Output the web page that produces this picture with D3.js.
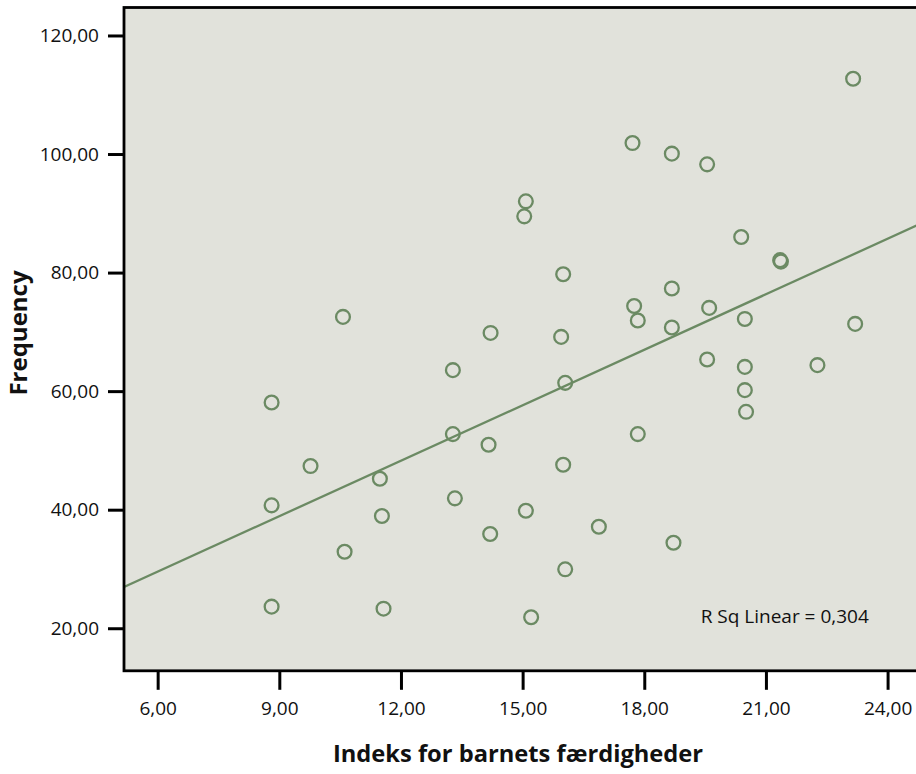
<!DOCTYPE html>
<html>
<head>
<meta charset="utf-8">
<script src="https://cdn.jsdelivr.net/npm/d3@7"></script>
<style>
  html, body { margin: 0; padding: 0; background: #ffffff; }
  svg { display: block; }
  text { font-family: "Open Sans", "Noto Sans", sans-serif; fill: #111; }
</style>
</head>
<body>
<script>
// Index scores (x) and frequency (y) for each child
const skillIndex = [
  10.57, 14.21, 13.28, 8.81, 13.28, 14.16, 9.77, 11.48, 13.33, 8.81,
  11.53, 14.20, 10.61, 8.81, 11.57, 17.71, 18.68, 15.08, 15.04, 16.00,
  18.68, 17.75, 17.84, 18.68, 15.95, 16.05, 17.84, 16.00, 15.08, 16.88,
  18.72, 16.05, 15.21, 23.15, 19.55, 20.39, 21.35, 21.37, 19.60, 20.48,
  23.20, 19.55, 20.48, 22.27, 20.48, 20.51
];
const frequency = [
  72.52, 69.82, 63.54, 58.09, 52.75, 50.95, 47.36, 45.22, 41.91, 40.73,
  38.93, 35.90, 32.91, 23.64, 23.30, 101.85, 100.06, 92.02, 89.49, 79.72,
  77.31, 74.37, 71.91, 70.73, 69.15, 61.40, 52.75, 47.58, 39.82, 37.12,
  34.43, 29.94, 21.85, 112.70, 98.26, 86.00, 82.10, 81.85, 74.04, 72.18,
  71.34, 65.34, 64.09, 64.38, 60.17, 56.51
];

const xTicks = [6, 9, 12, 15, 18, 21, 24];
const yTicks = [20, 40, 60, 80, 100, 120];
const xDomain = [5.17, 24.75];
const yDomain = [12.82, 124.72];

const xTitle = "Indeks for barnets færdigheder";
const yTitle = "Frequency";
const fitLabel = "R Sq Linear = 0,304";

const W = 916, H = 774;
const margin = { left: 124, top: 7.5, right: -2, bottom: 103.2 };
const pw = W - margin.left - margin.right;
const ph = H - margin.top - margin.bottom;

const green = "#6b8a63";
const panel = "#e1e2db";

const fmt = d3.formatLocale({ decimal: ",", thousands: ".", grouping: [3], currency: ["", ""] }).format(".2f");

const svg = d3.select("body").append("svg")
  .attr("width", W).attr("height", H);

const x = d3.scaleLinear().domain(xDomain).range([0, pw]);
const y = d3.scaleLinear().domain(yDomain).range([ph, 0]);

const g = svg.append("g").attr("transform", `translate(${margin.left},${margin.top})`);

// plot panel
g.append("rect")
  .attr("x", 0).attr("y", 0).attr("width", pw).attr("height", ph)
  .attr("fill", panel);

const clip = svg.append("defs").append("clipPath").attr("id", "plotclip");
clip.append("rect").attr("x", 0).attr("y", 0).attr("width", pw).attr("height", ph);

const inner = g.append("g").attr("clip-path", "url(#plotclip)");

// least-squares fit line
const pts = skillIndex.map((v, i) => [v, frequency[i]]);
const mx = d3.mean(skillIndex), my = d3.mean(frequency);
const sxy = d3.sum(pts, p => (p[0] - mx) * (p[1] - my));
const sxx = d3.sum(pts, p => (p[0] - mx) ** 2);
const slope = sxy / sxx;
const intercept = my - slope * mx;

inner.append("line")
  .attr("x1", x(xDomain[0])).attr("y1", y(intercept + slope * xDomain[0]))
  .attr("x2", x(xDomain[1])).attr("y2", y(intercept + slope * xDomain[1]))
  .attr("stroke", green).attr("stroke-width", 2.3);

// observations
inner.selectAll("circle.obs")
  .data(pts)
  .join("circle")
  .attr("class", "obs")
  .attr("cx", d => x(d[0]))
  .attr("cy", d => y(d[1]))
  .attr("r", 6.9)
  .attr("fill", "none")
  .attr("stroke", green)
  .attr("stroke-width", 2.3);

// fit label
inner.append("text")
  .attr("x", 700.7 - margin.left)
  .attr("y", 623.3 - margin.top)
  .attr("font-size", 19)
  .text(fitLabel);

// frame
g.append("rect")
  .attr("x", 0).attr("y", 0).attr("width", pw).attr("height", ph)
  .attr("fill", "none").attr("stroke", "#000").attr("stroke-width", 2.8);

// axes
const yAxis = d3.axisLeft(y).tickValues(yTicks).tickFormat(fmt).tickSize(16).tickPadding(9);
const xAxis = d3.axisBottom(x).tickValues(xTicks).tickFormat(fmt).tickSize(19).tickPadding(12);

const ya = g.append("g").call(yAxis);
const xa = g.append("g").attr("transform", `translate(0,${ph})`).call(xAxis);

[ya, xa].forEach(a => {
  a.select(".domain").remove();
  a.selectAll(".tick line").attr("stroke", "#000").attr("stroke-width", 3);
  a.selectAll(".tick text")
    .attr("font-family", '"Open Sans", "Noto Sans", sans-serif')
    .attr("font-size", 19)
    .attr("fill", "#111");
});

// axis titles
svg.append("text")
  .attr("x", 518).attr("y", 762)
  .attr("text-anchor", "middle")
  .attr("font-size", 23.7)
  .attr("font-weight", "bold")
  .text(xTitle);

svg.append("text")
  .attr("transform", `translate(27,333) rotate(-90)`)
  .attr("text-anchor", "middle")
  .attr("font-size", 24)
  .attr("font-weight", "bold")
  .text(yTitle);
</script>
</body>
</html>
